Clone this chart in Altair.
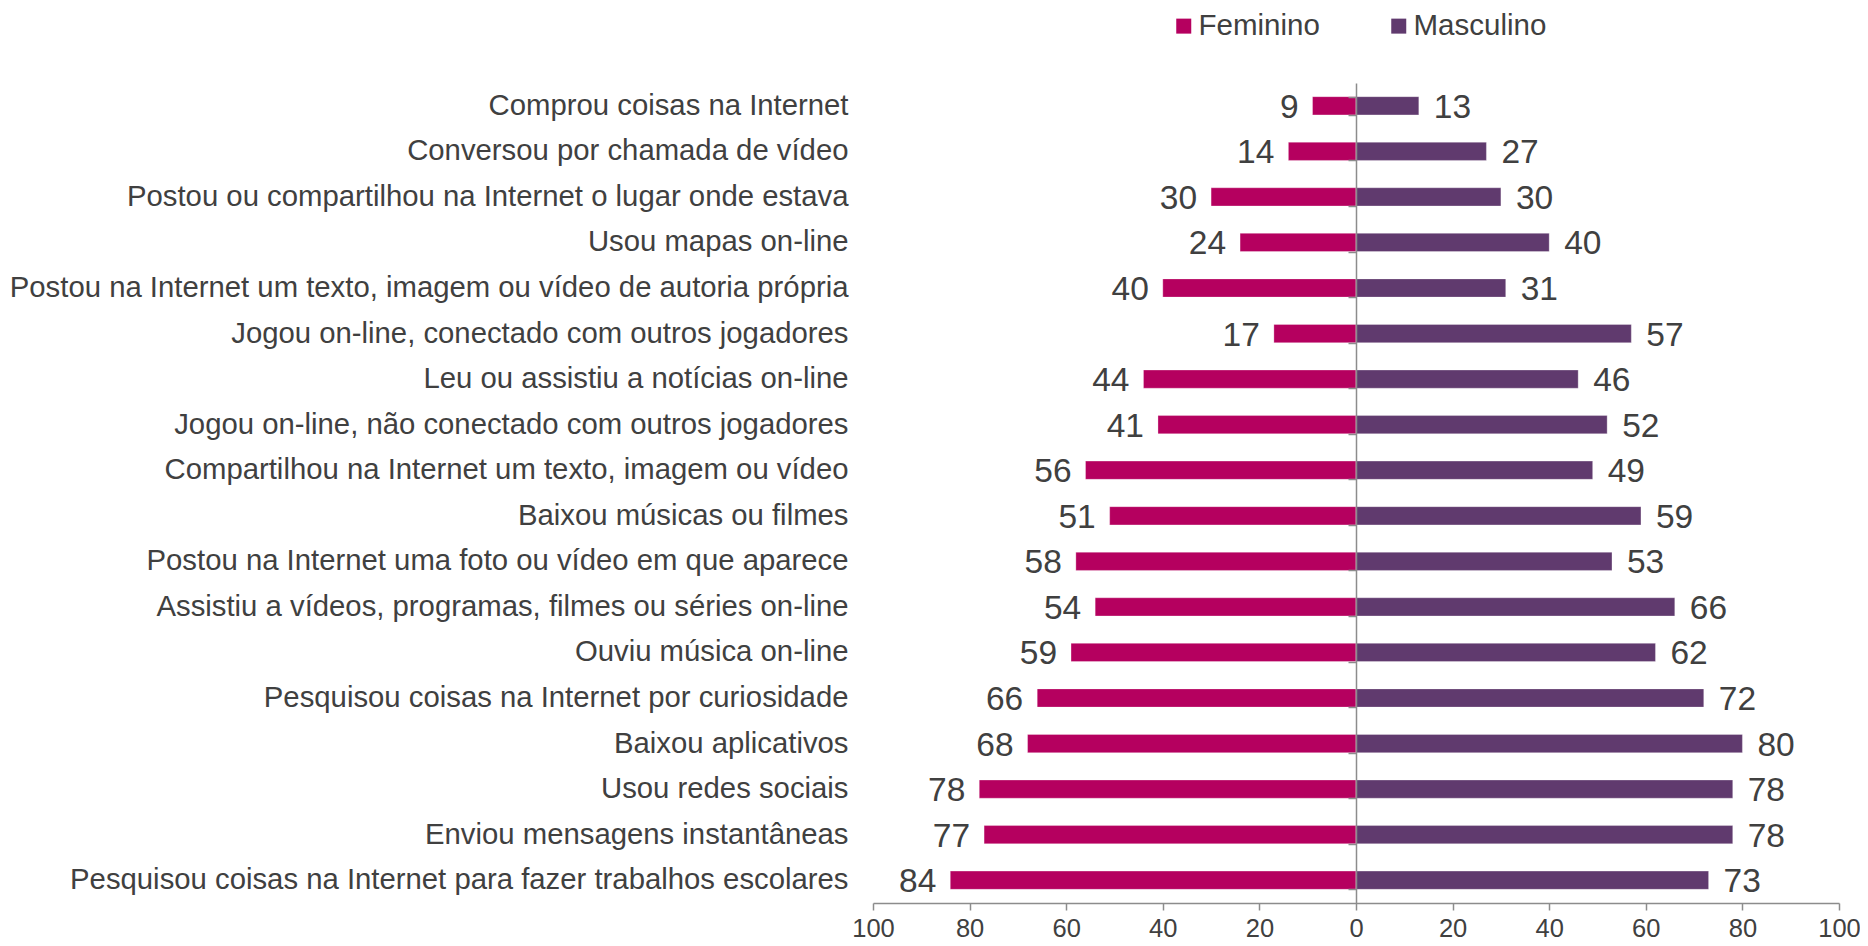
import altair as alt
import pandas as pd

categories = [
    "Comprou coisas na Internet",
    "Conversou por chamada de vídeo",
    "Postou ou compartilhou na Internet o lugar onde estava",
    "Usou mapas on-line",
    "Postou na Internet um texto, imagem ou vídeo de autoria própria",
    "Jogou on-line, conectado com outros jogadores",
    "Leu ou assistiu a notícias on-line",
    "Jogou on-line, não conectado com outros jogadores",
    "Compartilhou na Internet um texto, imagem ou vídeo",
    "Baixou músicas ou filmes",
    "Postou na Internet uma foto ou vídeo em que aparece",
    "Assistiu a vídeos, programas, filmes ou séries on-line",
    "Ouviu música on-line",
    "Pesquisou coisas na Internet por curiosidade ",
    "Baixou aplicativos",
    "Usou redes sociais",
    "Enviou mensagens instantâneas",
    "Pesquisou coisas na Internet para fazer trabalhos escolares",
]
feminino = [9, 14, 30, 24, 40, 17, 44, 41, 56, 51, 58, 54, 59, 66, 68, 78, 77, 84]
masculino = [13, 27, 30, 40, 31, 57, 46, 52, 49, 59, 53, 66, 62, 72, 80, 78, 78, 73]
series = ["Feminino", "Masculino"]
colors = ["#B5005F", "#603A6E"]
x_ticks = [-100, -80, -60, -40, -20, 0, 20, 40, 60, 80, 100]

rows = []
for c, f, m in zip(categories, feminino, masculino):
    rows.append({"cat": c, "sexo": series[0], "valor": f})
    rows.append({"cat": c, "sexo": series[1], "valor": m})
df = pd.DataFrame(rows)

FONT = "Liberation Sans"
TXT = "#404040"
GRAY = "#8C8C8C"

yscale = alt.Scale(domain=categories, paddingInner=0.6, paddingOuter=0.3)
xscale = alt.Scale(domain=[-100, 100], nice=False)
x_axis = alt.Axis(
    values=x_ticks, labelExpr="abs(datum.value)", title=None, grid=False,
    domainColor=GRAY, domainWidth=1.5, tickColor=GRAY, tickWidth=1.5, tickSize=7,
    labelFontSize=25.5, labelColor=TXT, labelFont=FONT, labelPadding=6,
    labelFlush=False, labelOverlap=False,
)

base = alt.Chart(df).transform_calculate(
    xv="datum.sexo == 'Feminino' ? -datum.valor : datum.valor"
)

bars = base.mark_bar(stroke="white", strokeWidth=0.6, strokeOpacity=0.5).encode(
    x=alt.X("xv:Q", scale=xscale, axis=x_axis),
    y=alt.Y("cat:N", sort=categories, scale=yscale, axis=alt.Axis(
        orient="left", title=None, domain=False, ticks=False, grid=False,
        labelFontSize=29.3, labelColor=TXT, labelFont=FONT, labelPadding=25,
        labelLimit=1000,
    )),
    color=alt.Color("sexo:N", scale=alt.Scale(domain=series, range=colors), legend=alt.Legend(
        orient="none", legendX=296, legendY=-72, direction="horizontal", title=None,
        symbolType="square", symbolSize=225, symbolStrokeWidth=0,
        labelFontSize=29.5, labelFont=FONT, labelColor=TXT, labelOffset=0,
        labelLimit=400, columnPadding=64,
    )),
)

txt_f = base.transform_filter("datum.sexo == 'Feminino'").mark_text(
    align="right", baseline="middle", dx=-14, dy=2, fontSize=33.5, font=FONT, color=TXT
).encode(
    x=alt.X("xv:Q", scale=xscale, axis=x_axis),
    y=alt.Y("cat:N", sort=categories, scale=yscale, axis=None),
    text="valor:Q",
)
txt_m = base.transform_filter("datum.sexo == 'Masculino'").mark_text(
    align="left", baseline="middle", dx=15, dy=2, fontSize=33.5, font=FONT, color=TXT
).encode(
    x=alt.X("xv:Q", scale=xscale, axis=x_axis),
    y=alt.Y("cat:N", sort=categories, scale=yscale, axis=None),
    text="valor:Q",
)

center = base.mark_point(opacity=0).encode(
    x=alt.X("xv:Q", scale=xscale, axis=x_axis),
    y=alt.Y("cat:N", sort=categories, scale=yscale, axis=alt.Axis(
        orient="left", offset=-483, labels=False, title=None, grid=False,
        domain=True, domainColor=GRAY, domainWidth=1.5,
        ticks=True, tickBand="extent", tickSize=8, tickColor=GRAY, tickWidth=1.5,
        zindex=1,
    )),
)

chart = alt.layer(bars, txt_f, txt_m, center).resolve_axis(y="independent").properties(
    width=966, height=820,
    autosize=alt.AutoSizeParams(type="none"),
    padding={"left": 865, "top": 75, "right": 21, "bottom": 42},
).configure(font=FONT).configure_view(strokeWidth=0, stroke="transparent")

chart.save("out.html", embed_options={"renderer": "svg", "actions": False})
